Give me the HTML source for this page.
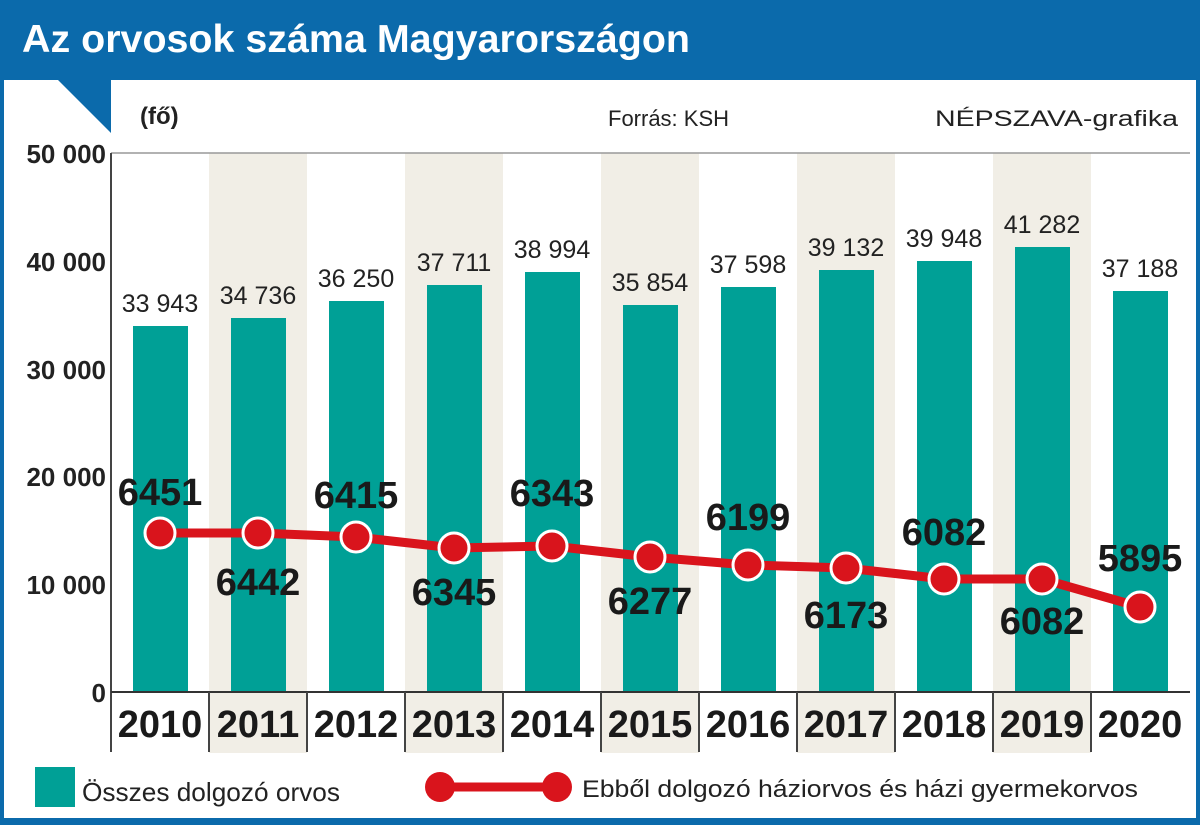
<!DOCTYPE html>
<html><head><meta charset="utf-8"><style>
body{margin:0;width:1200px;height:825px;overflow:hidden;background:#fff}
svg text{font-family:"Liberation Sans",sans-serif}
</style></head><body>
<svg width="1200" height="825" viewBox="0 0 1200 825">
<rect x="0" y="0" width="1200" height="825" fill="#fff"/>
<rect x="0" y="0" width="1200" height="80" fill="#0b6aab"/>
<rect x="0" y="0" width="4" height="825" fill="#0b6aab"/>
<rect x="1196" y="0" width="4" height="825" fill="#0b6aab"/>
<rect x="0" y="818" width="1200" height="7" fill="#0b6aab"/>
<polygon points="58,80 111,80 111,133" fill="#0b6aab"/>
<text x="22" y="52" font-size="39" font-weight="bold" fill="#fff" textLength="668" lengthAdjust="spacingAndGlyphs">Az orvosok száma Magyarországon</text>
<text x="140" y="124" font-size="24" font-weight="bold" fill="#222">(fő)</text>
<text x="608" y="126" font-size="22" fill="#222">Forrás: KSH</text>
<text x="935" y="126" font-size="22" fill="#222" textLength="243" lengthAdjust="spacingAndGlyphs">NÉPSZAVA-grafika</text>
<g fill="#f1eee6">
<rect x="209" y="153" width="98" height="600"/><rect x="405" y="153" width="98" height="600"/>
<rect x="601" y="153" width="98" height="600"/><rect x="797" y="153" width="98" height="600"/>
<rect x="993" y="153" width="98" height="600"/>
</g>
<line x1="111" y1="153" x2="1190" y2="153" stroke="#999" stroke-width="1.5"/>
<line x1="111" y1="153" x2="111" y2="752" stroke="#444" stroke-width="2"/>
<g font-size="26" font-weight="bold" fill="#222" text-anchor="end">
<text x="106" y="163">50 000</text><text x="106" y="271">40 000</text><text x="106" y="379">30 000</text>
<text x="106" y="486">20 000</text><text x="106" y="594">10 000</text><text x="106" y="702">0</text>
</g>
<g fill="#00a096">
<rect x="133" y="326" width="55" height="366"/>
<rect x="231" y="318" width="55" height="374"/>
<rect x="329" y="301" width="55" height="391"/>
<rect x="427" y="285" width="55" height="407"/>
<rect x="525" y="272" width="55" height="420"/>
<rect x="623" y="305" width="55" height="387"/>
<rect x="721" y="287" width="55" height="405"/>
<rect x="819" y="270" width="55" height="422"/>
<rect x="917" y="261" width="55" height="431"/>
<rect x="1015" y="247" width="55" height="445"/>
<rect x="1113" y="291" width="55" height="401"/>
</g>
<g font-size="25" fill="#222" text-anchor="middle">
<text x="160" y="312">33 943</text><text x="258" y="304">34 736</text><text x="356" y="287">36 250</text>
<text x="454" y="271">37 711</text><text x="552" y="258">38 994</text><text x="650" y="291">35 854</text>
<text x="748" y="273">37 598</text><text x="846" y="256">39 132</text><text x="944" y="247">39 948</text>
<text x="1042" y="233">41 282</text><text x="1140" y="277">37 188</text>
</g>
<line x1="111" y1="692" x2="1190" y2="692" stroke="#333" stroke-width="2"/>
<g stroke="#444" stroke-width="2">
<line x1="209" y1="692" x2="209" y2="752"/><line x1="307" y1="692" x2="307" y2="752"/>
<line x1="405" y1="692" x2="405" y2="752"/><line x1="503" y1="692" x2="503" y2="752"/>
<line x1="601" y1="692" x2="601" y2="752"/><line x1="699" y1="692" x2="699" y2="752"/>
<line x1="797" y1="692" x2="797" y2="752"/><line x1="895" y1="692" x2="895" y2="752"/>
<line x1="993" y1="692" x2="993" y2="752"/><line x1="1091" y1="692" x2="1091" y2="752"/>
</g>
<g font-size="38" font-weight="bold" fill="#1a1a1a" text-anchor="middle">
<text x="160" y="737">2010</text><text x="258" y="737">2011</text><text x="356" y="737">2012</text>
<text x="454" y="737">2013</text><text x="552" y="737">2014</text><text x="650" y="737">2015</text>
<text x="748" y="737">2016</text><text x="846" y="737">2017</text><text x="944" y="737">2018</text>
<text x="1042" y="737">2019</text><text x="1140" y="737">2020</text>
</g>
<polyline points="160,533 258,533 356,537 454,548 552,546 650,557 748,565 846,568 944,579 1042,579 1140,607" fill="none" stroke="#d9141c" stroke-width="9" stroke-linejoin="round"/>
<g fill="#d9141c" stroke="#fff" stroke-width="3">
<circle cx="160" cy="533" r="15"/><circle cx="258" cy="533" r="15"/><circle cx="356" cy="537" r="15"/>
<circle cx="454" cy="548" r="15"/><circle cx="552" cy="546" r="15"/><circle cx="650" cy="557" r="15"/>
<circle cx="748" cy="565" r="15"/><circle cx="846" cy="568" r="15"/><circle cx="944" cy="579" r="15"/>
<circle cx="1042" cy="579" r="15"/><circle cx="1140" cy="607" r="15"/>
</g>
<g font-size="38" font-weight="bold" fill="#1a1a1a" text-anchor="middle">
<text x="160" y="505">6451</text><text x="258" y="595">6442</text><text x="356" y="508">6415</text>
<text x="454" y="605">6345</text><text x="552" y="506">6343</text><text x="650" y="614">6277</text>
<text x="748" y="530">6199</text><text x="846" y="628">6173</text><text x="944" y="545">6082</text>
<text x="1042" y="634">6082</text><text x="1140" y="571">5895</text>
</g>
<rect x="35" y="767" width="40" height="40" fill="#00a096"/>
<text x="82" y="801" font-size="26" fill="#222" textLength="258" lengthAdjust="spacingAndGlyphs">Összes dolgozó orvos</text>
<line x1="440" y1="787" x2="557" y2="787" stroke="#d9141c" stroke-width="9"/>
<circle cx="440" cy="787" r="15" fill="#d9141c"/><circle cx="557" cy="787" r="15" fill="#d9141c"/>
<text x="582" y="797" font-size="24" fill="#222" textLength="556" lengthAdjust="spacingAndGlyphs">Ebből dolgozó háziorvos és házi gyermekorvos</text>
</svg>
</body></html>
